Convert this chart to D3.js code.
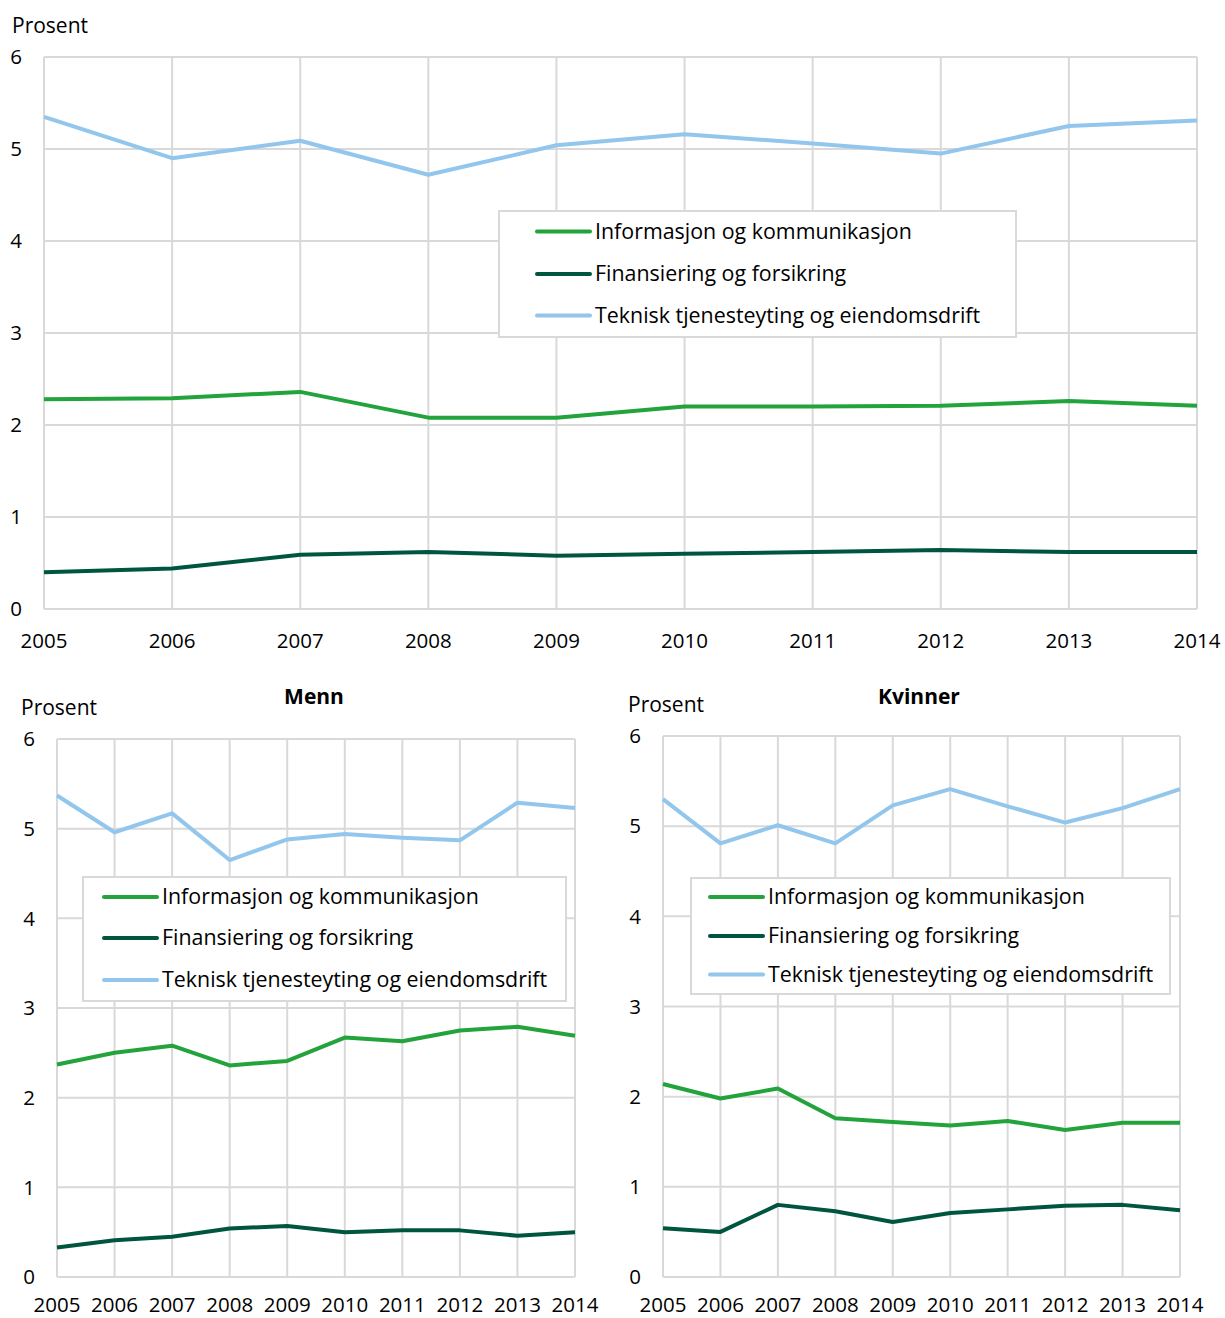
<!DOCTYPE html>
<html>
<head>
<meta charset="utf-8">
<script src="https://cdn.jsdelivr.net/npm/d3@7"></script>
<style>
  body { margin: 0; background: #fff; }
  svg text { font-family: "Open Sans", sans-serif; fill: #000; }
</style>
</head>
<body>
<svg id="chart" width="1225" height="1318"></svg>
<script>
// data
var years = [2005, 2006, 2007, 2008, 2009, 2010, 2011, 2012, 2013, 2014];
var seriesNames = ["Informasjon og kommunikasjon", "Finansiering og forsikring", "Teknisk tjenesteyting og eiendomsdrift"];
var seriesColors = ["#22a33c", "#00553f", "#92c6ec"];
var yTicks = [0, 1, 2, 3, 4, 5, 6];

// begge kjønn
var totalInfo = [2.28, 2.29, 2.36, 2.08, 2.08, 2.20, 2.20, 2.21, 2.26, 2.21];
var totalFin  = [0.40, 0.44, 0.59, 0.62, 0.58, 0.60, 0.62, 0.64, 0.62, 0.62];
var totalTek  = [5.35, 4.90, 5.09, 4.72, 5.04, 5.16, 5.06, 4.95, 5.25, 5.31];

// menn
var mennInfo = [2.37, 2.50, 2.58, 2.36, 2.41, 2.67, 2.63, 2.75, 2.79, 2.69];
var mennFin  = [0.33, 0.41, 0.45, 0.54, 0.57, 0.50, 0.52, 0.52, 0.46, 0.50];
var mennTek  = [5.37, 4.96, 5.17, 4.65, 4.88, 4.94, 4.90, 4.87, 5.29, 5.23];

// kvinner
var kvinnerInfo = [2.14, 1.98, 2.09, 1.76, 1.72, 1.68, 1.73, 1.63, 1.71, 1.71];
var kvinnerFin  = [0.54, 0.50, 0.80, 0.73, 0.61, 0.71, 0.75, 0.79, 0.80, 0.74];
var kvinnerTek  = [5.30, 4.81, 5.01, 4.81, 5.23, 5.41, 5.22, 5.04, 5.20, 5.41];

var svg = d3.select("#chart");
var gridColor = "#d9d9d9";

function drawPanel(p) {
    var x = d3.scalePoint().domain(years).range([p.left, p.right]);
    var y = d3.scaleLinear().domain([0, 6]).range([p.bottom, p.top]);
    var g = svg.append("g");

    // grid
    g.selectAll("line.h").data(yTicks).enter().append("line")
        .attr("x1", p.left).attr("x2", p.right)
        .attr("y1", function(d) { return y(d); })
        .attr("y2", function(d) { return y(d); })
        .attr("stroke", gridColor).attr("stroke-width", 2);
    g.selectAll("line.v").data(years).enter().append("line")
        .attr("x1", function(d) { return x(d); })
        .attr("x2", function(d) { return x(d); })
        .attr("y1", p.top).attr("y2", p.bottom)
        .attr("stroke", gridColor).attr("stroke-width", 2);

    // axis labels
    g.selectAll("text.yt").data(yTicks).enter().append("text")
        .attr("x", p.left - 22)
        .attr("y", function(d) { return y(d); })
        .attr("dy", "0.35em")
        .attr("text-anchor", "end")
        .style("font-size", "20.5px")
        .text(function(d) { return d; });
    g.selectAll("text.xt").data(years).enter().append("text")
        .attr("x", function(d) { return x(d); })
        .attr("y", p.bottom + p.xLabelGap)
        .attr("text-anchor", "middle")
        .style("font-size", "20.5px")
        .text(function(d) { return d; });

    g.append("text")
        .attr("x", p.unitX).attr("y", p.unitY)
        .style("font-size", "21px")
        .text("Prosent");
    if (p.title) {
        g.append("text")
            .attr("x", p.titleX).attr("y", p.titleY)
            .attr("text-anchor", "middle")
            .style("font-size", "21px")
            .style("font-weight", "bold")
            .text(p.title);
    }

    // lines
    var line = d3.line()
        .x(function(d, i) { return x(years[i]); })
        .y(function(d) { return y(d); });
    p.series.forEach(function(s, i) {
        g.append("path")
            .attr("d", line(s))
            .attr("fill", "none")
            .attr("stroke", seriesColors[i])
            .attr("stroke-width", 4)
            .attr("stroke-linejoin", "round");
    });

    // legend
    var L = p.legend;
    g.append("rect")
        .attr("x", L.x).attr("y", L.y)
        .attr("width", L.w).attr("height", L.h)
        .attr("fill", "#fff")
        .attr("stroke", gridColor).attr("stroke-width", 2);
    seriesNames.forEach(function(name, i) {
        var ly = L.rows[i];
        g.append("line")
            .attr("x1", L.lineX).attr("x2", L.lineX + 53)
            .attr("y1", ly).attr("y2", ly)
            .attr("stroke", seriesColors[i])
            .attr("stroke-width", 4)
            .attr("stroke-linecap", "round");
        g.append("text")
            .attr("x", L.lineX + 58).attr("y", ly)
            .attr("dy", "0.35em")
            .style("font-size", "21.4px")
            .text(name);
    });
}

drawPanel({
    left: 44, right: 1197, top: 57, bottom: 609, xLabelGap: 39,
    unitX: 12, unitY: 33,
    series: [totalInfo, totalFin, totalTek],
    legend: { x: 499, y: 211, w: 517, h: 126, lineX: 537, rows: [231.5, 274, 315.5] }
});

drawPanel({
    left: 57, right: 575, top: 739, bottom: 1277, xLabelGap: 35,
    unitX: 21, unitY: 715,
    title: "Menn", titleX: 314, titleY: 704,
    series: [mennInfo, mennFin, mennTek],
    legend: { x: 83, y: 877, w: 483, h: 124, lineX: 104, rows: [897, 938, 980] }
});

drawPanel({
    left: 663, right: 1180, top: 736, bottom: 1277, xLabelGap: 35,
    unitX: 628, unitY: 712,
    title: "Kvinner", titleX: 919, titleY: 704,
    series: [kvinnerInfo, kvinnerFin, kvinnerTek],
    legend: { x: 691, y: 878, w: 479, h: 116, lineX: 710, rows: [897, 936, 974.5] }
});
</script>
</body>
</html>
